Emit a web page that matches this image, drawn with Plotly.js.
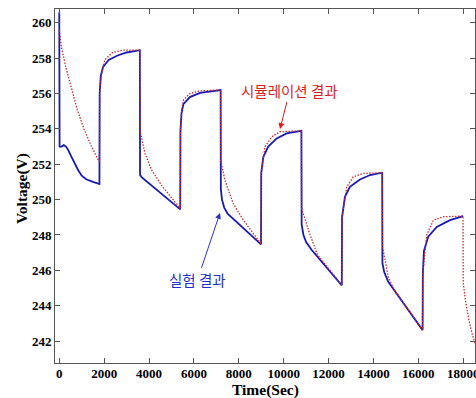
<!DOCTYPE html>
<html>
<head>
<meta charset="utf-8">
<script src="https://cdn.plot.ly/plotly-3.0.1.min.js"></script>
<style>html,body{margin:0;padding:0;background:#fff;}#chart{width:476px;height:398px;}</style>
</head>
<body>
<div id="chart"></div>
<script>
// Experimental (measured) voltage
const expTime = [0, 15, 100, 200, 300, 400, 550, 700, 850, 1000, 1200, 1500, 1790,
  1800, 1850, 1950, 2200, 2600, 3000, 3590,
  3600, 3680, 5390,
  5400, 5450, 5530, 5820, 6270, 7190,
  7200, 7250, 7350, 7500, 8990,
  9000, 9090, 9310, 9690, 10130, 10790,
  10800, 10880, 11000, 11250, 12590,
  12600, 12730, 12950, 13400, 13850, 14390,
  14400, 14480, 14660, 16190,
  16200, 16250, 16440, 16820, 17410, 18000];
const expVolt = [260.6, 253.0, 253.0, 253.08, 253.0, 252.8, 252.4, 252.0, 251.65, 251.35, 251.15, 251.0, 250.88,
  256.0, 257.0, 257.5, 257.9, 258.15, 258.32, 258.45,
  251.4, 251.25, 249.45,
  253.9, 254.9, 255.4, 255.8, 256.04, 256.2,
  250.6, 250.0, 249.55, 249.2, 247.47,
  251.5, 252.4, 253.0, 253.46, 253.74, 253.89,
  248.6, 248.0, 247.6, 247.15, 245.15,
  249.0, 250.16, 250.72, 251.14, 251.39, 251.52,
  246.4, 245.9, 245.35, 242.62,
  245.8, 247.1, 247.9, 248.46, 248.84, 249.07];

// Simulation voltage
const simTime = [0, 100, 300, 500, 800, 1100, 1400, 1790,
  1800, 1870, 2030, 2350, 2800, 3590,
  3600, 3820, 4120, 4560, 5080, 5390,
  5400, 5450, 5530, 5820, 6270, 7190,
  7200, 7380, 7750, 8200, 8990,
  9000, 9170, 9465, 9835, 10790,
  10800, 10950, 11150, 11500, 12590,
  12600, 12810, 13100, 13550, 14390,
  14400, 14520, 14660, 14900, 16190,
  16200, 16370, 16670, 17110, 17990,
  18000, 18100, 18250, 18400, 18550];
const simVolt = [259.6, 258.6, 257.45, 256.5, 255.1, 254.0, 253.1, 252.1,
  256.0, 257.0, 257.9, 258.3, 258.45, 258.45,
  253.9, 252.6, 251.67, 250.8, 249.97, 249.5,
  253.9, 255.0, 255.63, 256.0, 256.15, 256.2,
  252.2, 251.1, 249.78, 248.84, 247.5,
  251.5, 253.0, 253.55, 253.84, 253.89,
  249.5, 248.9, 248.1, 246.9, 245.15,
  249.0, 250.72, 251.29, 251.48, 251.52,
  247.33, 246.58, 245.63, 244.95, 242.62,
  245.8, 247.99, 248.84, 249.03, 249.07,
  245.3, 244.3, 243.2, 242.4, 241.8];

const xTicks = [0, 2000, 4000, 6000, 8000, 10000, 12000, 14000, 16000, 18000];
const yTicks = [242, 244, 246, 248, 250, 252, 254, 256, 258, 260];

const simLabel = '시뮬레이션 결과';
const expLabel = '실험 결과';
const xTitle = 'Time(Sec)';
const yTitle = 'Voltage(V)';

const tickFont = {family: 'Liberation Serif, Times New Roman, serif', size: 13, color: '#000', weight: 'bold'};
const titleFont = {family: 'Liberation Serif, Times New Roman, serif', size: 15.5, color: '#000', weight: 'bold'};

const traces = [
  {x: expTime, y: expVolt, type: 'scatter', mode: 'lines',
   line: {color: 'rgb(25,25,180)', width: 1.8}, hoverinfo: 'skip'},
  {x: simTime, y: simVolt, type: 'scatter', mode: 'lines',
   line: {color: 'rgb(200,45,45)', width: 1.3, dash: '1.5px,1.5px'}, hoverinfo: 'skip'}
];

const layout = {
  width: 476, height: 398,
  margin: {l: 55, r: 1, t: 9, b: 35},
  paper_bgcolor: '#fff', plot_bgcolor: '#fff',
  showlegend: false,
  xaxis: {
    range: [-190, 18525], tickvals: xTicks, ticktext: xTicks.map(String),
    ticks: 'inside', ticklen: 5, tickcolor: '#555', tickwidth: 1,
    showline: true, linecolor: '#555', linewidth: 1, mirror: 'ticks',
    showgrid: false, zeroline: false, tickfont: tickFont,
    ticklabeloverflow: 'allow', ticklabelstandoff: -2
  },
  yaxis: {
    range: [240.76, 260.78], tickvals: yTicks, ticktext: yTicks.map(String),
    ticks: 'inside', ticklen: 5, tickcolor: '#555', tickwidth: 1,
    showline: true, linecolor: '#555', linewidth: 1, mirror: 'ticks',
    showgrid: false, zeroline: false, tickfont: tickFont
  },
  annotations: [
    {xref: 'paper', yref: 'paper', x: 0.5, y: -0.0755, xanchor: 'center', yanchor: 'middle',
     text: xTitle, showarrow: false, font: titleFont},
    {xref: 'paper', yref: 'paper', x: -0.079, y: 0.494, xanchor: 'center', yanchor: 'middle',
     text: yTitle, textangle: -90, showarrow: false, font: titleFont},
    {x: 9835, y: 253.99, xref: 'x', yref: 'y', text: simLabel,
     showarrow: true, ax: 10, ay: -39, arrowhead: 2, arrowsize: 1.2, arrowwidth: 1,
     arrowcolor: 'rgb(220,30,30)',
     font: {family: 'Noto Sans CJK KR', size: 14.5, color: 'rgb(220,30,30)'}},
    {x: 7161, y: 249.25, xref: 'x', yref: 'y', text: expLabel,
     showarrow: true, ax: -22.5, ay: 67, arrowhead: 2, arrowsize: 1.2, arrowwidth: 1,
     arrowcolor: 'rgb(40,50,190)',
     font: {family: 'Noto Sans CJK KR', size: 14.5, color: 'rgb(30,50,200)'}}
  ]
};

Plotly.newPlot('chart', traces, layout, {staticPlot: true, displayModeBar: false});
</script>
</body>
</html>
